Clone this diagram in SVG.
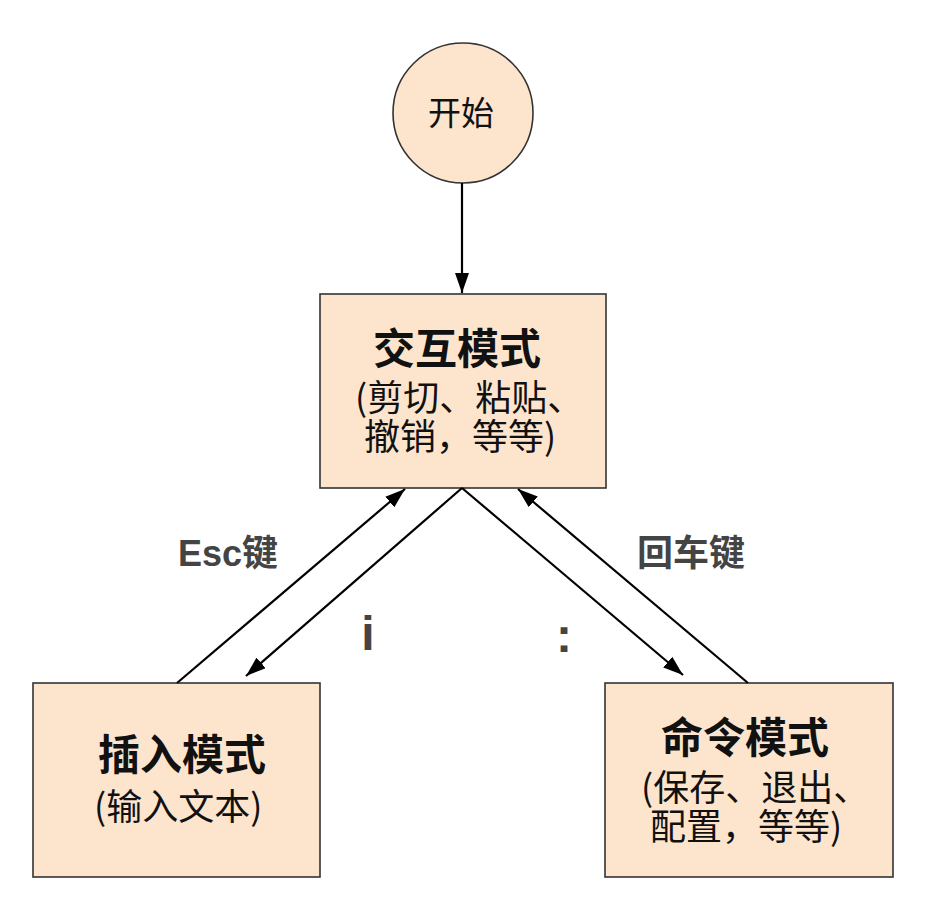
<svg xmlns="http://www.w3.org/2000/svg" width="928" height="916" viewBox="0 0 928 916">
<style>
.node{fill:#fde4cd;stroke:#333;stroke-width:1.6}
.t{font-family:"Noto Sans CJK SC","Noto Sans",sans-serif;fill:#111}
.title{font-size:42px;font-weight:bold}
.sub{font-size:36px}
.lbl{font-family:"Liberation Sans","Noto Sans CJK SC",sans-serif;font-weight:bold;fill:#444}
.edge{stroke:#000;stroke-width:2.2;fill:none}
</style>
<defs>
<marker id="ah" markerUnits="userSpaceOnUse" markerWidth="20" markerHeight="14" refX="20" refY="7" orient="auto">
<path d="M0,0 L20,7 L0,14 Z" fill="#000"/>
</marker>
</defs>
<g id="start">
<circle class="node" cx="463" cy="113" r="70"/>
<text class="t" font-size="33" x="428" y="125">开始</text>
</g>
<g id="interactive">
<rect class="node" x="320" y="294" width="286" height="194"/>
<text class="t title" x="373" y="364">交互模式</text>
<text class="t sub" x="355" y="411">(剪切、粘贴、</text>
<text class="t sub" x="364" y="450">撤销，等等)</text>
</g>
<g id="insert">
<rect class="node" x="33" y="683" width="287" height="194"/>
<text class="t title" x="98" y="770">插入模式</text>
<text class="t sub" x="94" y="820">(输入文本)</text>
</g>
<g id="command">
<rect class="node" x="605" y="683" width="288" height="194"/>
<text class="t title" x="661" y="753">命令模式</text>
<text class="t sub" x="641" y="801">(保存、退出、</text>
<text class="t sub" x="650" y="840">配置，等等)</text>
</g>
<g id="connectors">
<line class="edge" x1="462" y1="183" x2="462" y2="293" marker-end="url(#ah)"/>
<line class="edge" x1="177" y1="683" x2="405" y2="489" marker-end="url(#ah)"/>
<line class="edge" x1="462" y1="488" x2="246" y2="676" marker-end="url(#ah)"/>
<line class="edge" x1="462" y1="488" x2="683" y2="675" marker-end="url(#ah)"/>
<line class="edge" x1="748" y1="683" x2="518" y2="489" marker-end="url(#ah)"/>
<text class="lbl" x="178" y="566" font-size="36">Esc键</text>
<text class="lbl" x="637" y="566" font-size="36">回车键</text>
<text class="lbl" x="368" y="650" font-size="48" text-anchor="middle">i</text>
<text class="lbl" x="564" y="652" font-size="48" text-anchor="middle">:</text>
</g>
</svg>
